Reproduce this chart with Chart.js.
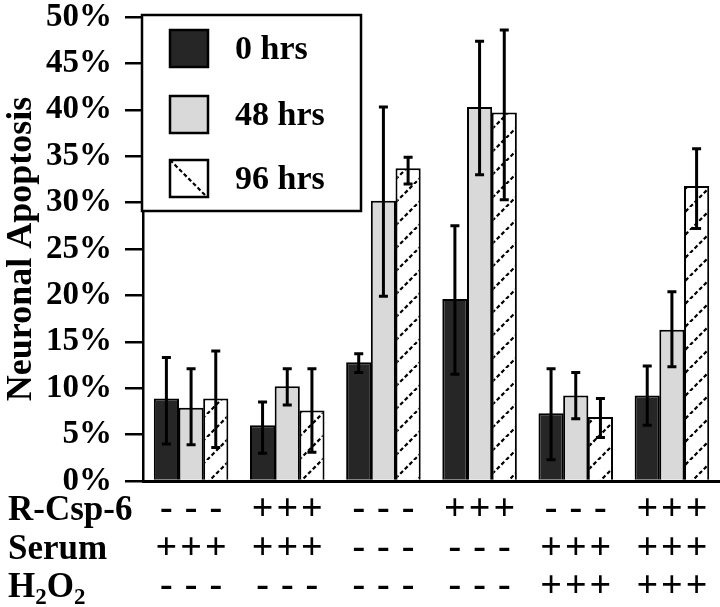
<!DOCTYPE html>
<html>
<head>
<meta charset="utf-8">
<script src="https://cdn.jsdelivr.net/npm/chart.js@4/dist/chart.umd.min.js"></script>
<style>
  html, body { margin: 0; padding: 0; background: #fff; }
  #wrap { width: 720px; height: 607px; }
</style>
</head>
<body>
<div id="wrap"><canvas id="apoptosis" width="720" height="607"></canvas></div>
<script>
// groups along the x axis (one per condition set)
const groups = ['A', 'B', 'C', 'D', 'E', 'F'];
const seriesNames = ['0 hrs', '48 hrs', '96 hrs'];

// mean neuronal apoptosis (%)
const hrs0 = [8.9, 6.0, 12.8, 19.6, 7.3, 9.2];
const hrs48 = [7.9, 10.2, 30.2, 40.3, 9.2, 16.3];
const hrs96 = [8.9, 7.6, 33.7, 39.7, 6.9, 31.8];

// error bar ends (%)
const hrs0Hi = [13.3, 8.5, 13.7, 27.5, 12.1, 12.4];
const hrs0Lo = [4.0, 3.0, 11.7, 11.5, 2.3, 6.0];
const hrs48Hi = [12.1, 12.1, 40.3, 47.4, 11.7, 20.4];
const hrs48Lo = [3.9, 8.2, 19.9, 33.0, 6.7, 12.3];
const hrs96Hi = [14.0, 12.1, 34.9, 48.6, 8.9, 35.8];
const hrs96Lo = [3.6, 3.1, 32.0, 30.3, 4.7, 27.2];

// treatment table under the axis
const rCsp6 = ['-', '+', '-', '+', '-', '+'];
const serum = ['+', '+', '-', '-', '+', '+'];
const h2o2 = ['-', '-', '-', '-', '+', '+'];

const FONT = "'Liberation Serif', 'Times New Roman', serif";

function hatchPattern(size, backslash) {
  const c = document.createElement('canvas');
  c.width = size; c.height = size;
  const g = c.getContext('2d');
  g.fillStyle = '#fff';
  g.fillRect(0, 0, size, size);
  g.strokeStyle = '#000';
  g.lineWidth = 2.2;
  g.setLineDash([4, 2.5]);
  for (const off of [-size, 0, size]) {
    g.beginPath();
    if (backslash) { g.moveTo(off, 0); g.lineTo(off + size, size); }
    else { g.moveTo(off, size); g.lineTo(off + size, 0); }
    g.stroke();
  }
  return g.createPattern(c, 'repeat');
}

const ctx = document.getElementById('apoptosis').getContext('2d');
const hatch = hatchPattern(23, false);
const fills = ['#262626', '#d9d9d9', hatch];

const errorBars = {
  id: 'errorBars',
  afterDatasetsDraw(chart) {
    const c = chart.ctx, y = chart.scales.y;
    const his = [hrs0Hi, hrs48Hi, hrs96Hi], los = [hrs0Lo, hrs48Lo, hrs96Lo];
    c.save();
    c.strokeStyle = '#000';
    c.lineWidth = 3;
    his.forEach((hi, i) => {
      chart.getDatasetMeta(i).data.forEach((bar, j) => {
        const top = y.getPixelForValue(hi[j]), bot = y.getPixelForValue(los[i][j]);
        c.beginPath();
        c.moveTo(bar.x, top); c.lineTo(bar.x, bot);
        c.moveTo(bar.x - 4.5, top); c.lineTo(bar.x + 4.5, top);
        c.moveTo(bar.x - 4.5, bot); c.lineTo(bar.x + 4.5, bot);
        c.stroke();
      });
    });
    c.restore();
  }
};

const tableAndLegend = {
  id: 'tableAndLegend',
  afterDraw(chart) {
    const c = chart.ctx, area = chart.chartArea;
    c.save();
    c.fillStyle = '#000';
    c.textBaseline = 'alphabetic';

    // treatment rows
    const rows = [rCsp6, serum, h2o2];
    const baselines = [area.bottom + 39, area.bottom + 78, area.bottom + 116];
    c.font = 'bold 35px ' + FONT;
    c.textAlign = 'left';
    c.fillText('R-Csp-6', 8, baselines[0]);
    c.fillText('Serum', 8, baselines[1]);
    let x = 8;
    c.fillText('H', x, baselines[2]); x += c.measureText('H').width;
    c.font = 'bold 23px ' + FONT;
    c.fillText('2', x, baselines[2] + 7); x += c.measureText('2').width;
    c.font = 'bold 35px ' + FONT;
    c.fillText('O', x, baselines[2]); x += c.measureText('O').width;
    c.font = 'bold 23px ' + FONT;
    c.fillText('2', x, baselines[2] + 7);

    c.font = 'bold 38px ' + FONT;
    c.textAlign = 'center';
    rows.forEach((row, r) => {
      for (let i = 0; i < 3; i++) {
        chart.getDatasetMeta(i).data.forEach((bar, j) => {
          c.fillText(row[j], bar.x, baselines[r] - (row[j] === '-' ? 1 : 0));
        });
      }
    });

    // legend box
    const lx = area.left - 1, ly = 15, lw = 219, lh = 196;
    c.fillStyle = '#fff';
    c.fillRect(lx, ly, lw, lh);
    c.strokeStyle = '#000';
    c.lineWidth = 2.5;
    c.strokeRect(lx, ly, lw, lh);
    const legFills = [fills[0], fills[1], hatchPattern(38, true)];
    const boxTops = [30, 96, 160];
    c.font = 'bold 34px ' + FONT;
    c.textAlign = 'left';
    c.textBaseline = 'middle';
    seriesNames.forEach((name, i) => {
      const bx = lx + 28, by = boxTops[i];
      c.save();
      c.translate(bx, by);
      c.fillStyle = legFills[i];
      c.fillRect(0, 0, 38, 37);
      c.lineWidth = 2.5;
      c.strokeRect(0, 0, 38, 37);
      c.restore();
      c.fillStyle = '#000';
      c.fillText(name, lx + 93, by + 20);
    });
    c.restore();
  }
};

new Chart(ctx, {
  type: 'bar',
  data: {
    labels: groups,
    datasets: [
      { label: seriesNames[0], data: hrs0, backgroundColor: fills[0] },
      { label: seriesNames[1], data: hrs48, backgroundColor: fills[1] },
      { label: seriesNames[2], data: hrs96, backgroundColor: fills[2] }
    ].map(d => Object.assign(d, {
      borderColor: '#000',
      borderWidth: 2,
      borderSkipped: 'bottom',
      categoryPercentage: 0.77,
      barPercentage: 1.02
    }))
  },
  options: {
    responsive: false,
    animation: false,
    layout: { padding: { top: 17, right: 0, left: 0, bottom: 0 } },
    plugins: { legend: { display: false }, tooltip: { enabled: false } },
    scales: {
      x: {
        grid: { display: false },
        border: { color: '#000', width: 3 },
        ticks: { display: false },
        afterFit: s => { s.height = 126; s.paddingLeft = 0; s.paddingRight = 0; }
      },
      y: {
        min: 0,
        max: 50,
        ticks: {
          stepSize: 5,
          color: '#000',
          padding: 13,
          font: { family: FONT, size: 33, weight: 'bold' },
          callback: v => v + '%'
        },
        grid: { drawOnChartArea: false, drawTicks: true, tickLength: 18, color: '#000', lineWidth: 2.5 },
        border: { color: '#000', width: 2.5 },
        title: {
          display: true,
          text: 'Neuronal Apoptosis',
          color: '#000',
          padding: { top: 0, bottom: 0 },
          font: { family: FONT, size: 36, weight: 'bold' }
        },
        afterFit: s => { s.width = 143; s.paddingTop = 0; s.paddingBottom = 0; }
      }
    }
  },
  plugins: [errorBars, tableAndLegend]
});
</script>
</body>
</html>
